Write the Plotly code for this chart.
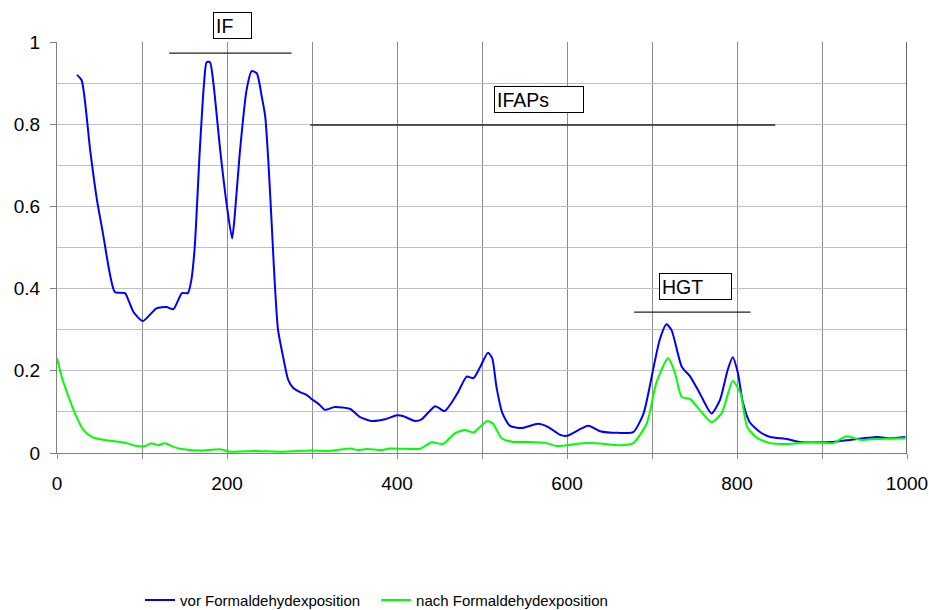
import plotly.graph_objects as go

# --- data ---
vor_x = [23.5, 29, 39, 47, 54, 62, 68, 80, 84, 90, 101, 117, 129, 137, 147, 154, 158, 162, 168, 173,
         176, 180, 184, 192, 200, 206, 209, 215, 223, 229, 235, 241, 245, 249, 254, 256, 260, 266, 272,
         278, 286, 294, 298, 309, 315, 327, 345, 356, 370, 386, 400, 407, 421, 429, 445, 456, 471, 482,
         490, 498, 507, 512, 517, 524, 533, 547, 566, 578, 592, 600, 625, 639, 660, 678, 690, 702, 709,
         717, 723, 735, 745, 756, 770, 780, 789, 795, 801, 807, 815, 827, 839, 859, 874, 913, 929, 965,
         980, 998]
vor_y = [0.92, 0.907, 0.737, 0.616, 0.535, 0.438, 0.392, 0.389, 0.372, 0.343, 0.321, 0.352, 0.355, 0.350,
         0.389, 0.389, 0.42, 0.50, 0.737, 0.90, 0.951, 0.951, 0.90, 0.737, 0.599, 0.522, 0.575, 0.729,
         0.883, 0.929, 0.924, 0.866, 0.818, 0.697, 0.50, 0.42, 0.30, 0.234, 0.178, 0.158, 0.148, 0.141,
         0.134, 0.117, 0.105, 0.112, 0.107, 0.088, 0.078, 0.082, 0.092, 0.090, 0.078, 0.082, 0.114, 0.102,
         0.145, 0.186, 0.182, 0.210, 0.244, 0.231, 0.161, 0.097, 0.066, 0.061, 0.071, 0.063, 0.044, 0.042,
         0.066, 0.053, 0.049, 0.051, 0.096, 0.210, 0.275, 0.313, 0.299, 0.210, 0.186, 0.146, 0.096, 0.129,
         0.202, 0.233, 0.195, 0.122, 0.075, 0.051, 0.039, 0.034, 0.027, 0.027, 0.031, 0.039, 0.036, 0.039]

nach_x = [0, 6, 12, 21, 31, 41, 54, 70, 82, 94, 104, 111, 119, 127, 137, 149, 168, 192, 204, 231, 266,
          298, 321, 345, 354, 365, 382, 392, 415, 427, 441, 454, 468, 480, 490, 506, 513, 523, 537, 556,
          576, 588, 619, 639, 662, 678, 694, 705, 719, 727, 735, 745, 756, 770, 782, 795, 804, 812, 824,
          839, 859, 889, 913, 929, 945, 965, 998]
nach_y = [0.231, 0.182, 0.146, 0.097, 0.056, 0.039, 0.032, 0.028, 0.024, 0.017, 0.017, 0.024, 0.019, 0.024,
          0.015, 0.009, 0.006, 0.009, 0.003, 0.005, 0.003, 0.006, 0.005, 0.011, 0.007, 0.010, 0.007, 0.011,
          0.010, 0.010, 0.026, 0.022, 0.048, 0.056, 0.050, 0.078, 0.071, 0.036, 0.027, 0.027, 0.024, 0.017,
          0.024, 0.023, 0.019, 0.024, 0.073, 0.170, 0.231, 0.195, 0.136, 0.131, 0.105, 0.075, 0.097, 0.175,
          0.146, 0.063, 0.036, 0.024, 0.022, 0.027, 0.024, 0.041, 0.032, 0.034, 0.036]

series_names = ["vor Formaldehydexposition", "nach Formaldehydexposition"]

# region labels: (text, box centre x, box centre y, bracket x0, bracket x1, bracket y)
regions = [
    ("IF", 206.5, 1.040, 132, 276, 0.973),
    ("IFAPs", 567, 0.860, 298, 845, 0.798),
    ("HGT", 751, 0.406, 679, 816, 0.343),
]
box_widths = [33, 84, 67]

FONT = "Liberation Sans, Arial, sans-serif"

fig = go.Figure()
fig.add_trace(go.Scatter(x=vor_x, y=vor_y, mode="lines", name=series_names[0],
                         line=dict(color="#0000ff", width=2, shape="spline", smoothing=0.6)))
fig.add_trace(go.Scatter(x=nach_x, y=nach_y, mode="lines", name=series_names[1],
                         line=dict(color="#00ff00", width=2, shape="spline", smoothing=0.6)))

for (txt, bx, by, x0, x1, ly), w in zip(regions, box_widths):
    fig.add_shape(type="line", xref="x", yref="y", x0=x0, x1=x1, y0=ly, y1=ly,
                  line=dict(color="#222222", width=1.3))
    fig.add_annotation(x=bx, y=by, xref="x", yref="paper", text=txt, showarrow=False,
                       xanchor="center", yanchor="middle",
                       align="left", valign="middle", width=w, height=21, bgcolor="white",
                       bordercolor="#000000", borderwidth=1, borderpad=2,
                       font=dict(family=FONT, size=19.5, color="#000000"))

# dark right border
fig.add_shape(type="line", xref="x", yref="y", x0=1000, x1=1000, y0=0, y1=1,
              line=dict(color="#333333", width=1.5))

fig.update_layout(
    width=929, height=610,
    margin=dict(l=57, r=22, t=42, b=157, autoexpand=False),
    paper_bgcolor="white", plot_bgcolor="white",
    font=dict(family=FONT, size=19, color="#000000"),
    showlegend=True,
    legend=dict(orientation="h", x=0.0977, y=-0.358, xanchor="left", yanchor="middle",
                font=dict(family=FONT, size=15, color="#000000"), itemwidth=30,
                entrywidth=191, entrywidthmode="pixels"),
)
fig.update_xaxes(range=[0, 1000], dtick=200, tick0=0, showgrid=True, gridcolor="#8c8c8c", gridwidth=1,
                 ticks="outside", ticklen=5, tickcolor="#8c8c8c", automargin=False,
                 ticklabelstandoff=8,
                 showline=True, linecolor="#808080", linewidth=1, zeroline=False,
                 minor=dict(dtick=100, showgrid=True, gridcolor="#8c8c8c", ticks="outside",
                            ticklen=5, tickcolor="#8c8c8c"))
fig.update_yaxes(range=[0, 1], dtick=0.2, tick0=0, showgrid=True, gridcolor="#c0c0c0", gridwidth=1,
                 ticks="outside", ticklen=6, tickcolor="#808080", automargin=False,
                 ticklabelstandoff=6,
                 showline=True, linecolor="#808080", linewidth=1, zeroline=False,
                 minor=dict(dtick=0.1, showgrid=True, gridcolor="#c0c0c0"))

fig.write_html("out.html")
